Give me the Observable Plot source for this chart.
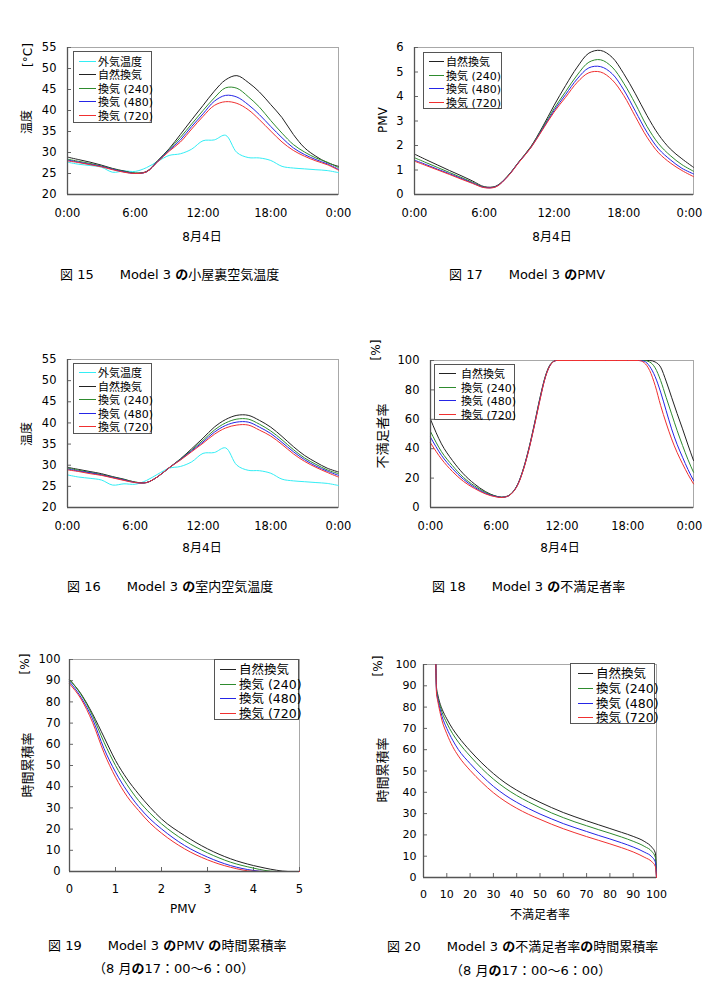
<!DOCTYPE html>
<html><head><meta charset="utf-8">
<script src="https://cdn.jsdelivr.net/npm/d3@7"></script>
<script src="https://cdn.jsdelivr.net/npm/@observablehq/plot@0.6"></script>
<style>
body{margin:0;background:#fff;font-family:"DejaVu Sans","Noto Sans CJK JP",sans-serif;color:#000;}
#page{position:relative;width:703px;height:981px;overflow:hidden;background:#fff;}
.t{position:absolute;white-space:pre;line-height:1;}
.lg{position:absolute;border:1px solid #555;background:#fff;box-sizing:border-box;}
.lgl{position:absolute;height:1px;}
.lgt{position:absolute;white-space:pre;line-height:1;transform:translateY(-50%);}
.no{font-weight:bold;}
</style>
</head><body><div id="page"></div>
<script>
// ---------- data ----------
const hours = [0,1,2,3,4,5,6,7,8,9,10,11,12,13,14,15,16,17,18,19,20,21,22,23,24];
const timeTicks = [0, 6, 12, 18, 24];
const timeLabels = ["0:00", "6:00", "12:00", "18:00", "0:00"];
const seriesNames = ["外気温度", "自然換気", "換気 (240)", "換気 (480)", "換気 (720)"];

// 外気温度 (same for Fig.15 and Fig.16)
const outsideTemp = [27.7, 27.2, 26.9, 26.5, 25.3, 25.6, 25.5, 26.4, 27.9, 29.3, 29.7, 30.8, 32.8, 33.0, 34.1, 30.0, 28.8, 28.7, 28.1, 26.7, 26.3, 26.1, 25.9, 25.7, 25.2];

// Fig.15 小屋裏空気温度
const atticNatural = [28.9, 28.3, 27.7, 27.0, 26.2, 25.6, 25.1, 25.5, 28.1, 30.9, 34.3, 37.8, 41.2, 44.6, 47.3, 48.3, 46.7, 44.4, 41.4, 38.3, 34.3, 31.1, 29.1, 27.6, 26.7];
const attic240 = [28.4, 27.9, 27.4, 26.8, 26.1, 25.5, 25.1, 25.4, 28.0, 30.7, 33.6, 36.8, 40.0, 43.0, 45.4, 45.3, 43.3, 40.8, 37.6, 34.6, 31.9, 30.1, 28.7, 27.7, 26.4];
const attic480 = [28.2, 27.7, 27.2, 26.7, 26.0, 25.4, 25.0, 25.4, 27.9, 30.5, 33.0, 36.2, 39.2, 42.2, 43.6, 43.2, 41.4, 39.0, 36.2, 33.5, 31.1, 29.5, 28.3, 27.3, 26.0];
const attic720 = [28.0, 27.6, 27.1, 26.6, 25.9, 25.3, 25.0, 25.4, 27.8, 30.3, 32.5, 35.6, 38.6, 41.2, 42.1, 41.7, 40.2, 37.8, 35.1, 32.5, 30.5, 29.1, 28.0, 27.1, 25.8];

// Fig.16 室内空気温度
const roomNatural = [29.5, 29.0, 28.5, 28.0, 27.3, 26.7, 26.0, 25.9, 27.3, 29.4, 31.5, 33.9, 36.4, 39.0, 40.8, 41.8, 41.8, 40.6, 39.0, 36.8, 34.4, 32.3, 30.7, 29.3, 28.4];
const room240 = [29.3, 28.8, 28.3, 27.8, 27.2, 26.6, 26.0, 25.9, 27.3, 29.4, 31.4, 33.6, 35.9, 38.3, 40.0, 40.9, 40.9, 39.7, 38.1, 36.0, 33.7, 31.7, 30.2, 28.9, 28.0];
const room480 = [29.1, 28.6, 28.2, 27.7, 27.1, 26.5, 25.9, 25.9, 27.3, 29.4, 31.3, 33.4, 35.5, 37.8, 39.4, 40.2, 40.2, 39.0, 37.5, 35.4, 33.2, 31.3, 29.8, 28.6, 27.6];
const room720 = [28.9, 28.5, 28.0, 27.6, 27.0, 26.4, 25.9, 25.9, 27.3, 29.4, 31.2, 33.2, 35.2, 37.3, 38.8, 39.5, 39.5, 38.3, 36.9, 34.9, 32.7, 30.9, 29.5, 28.3, 27.2];

// Fig.17 PMV
const pmvNatural = [1.65, 1.42, 1.2, 0.98, 0.77, 0.55, 0.32, 0.34, 0.75, 1.35, 1.95, 2.75, 3.63, 4.45, 5.2, 5.77, 5.88, 5.6, 4.93, 4.11, 3.22, 2.44, 1.86, 1.46, 1.11];
const pmv240 = [1.5, 1.3, 1.1, 0.9, 0.7, 0.5, 0.3, 0.33, 0.74, 1.34, 1.93, 2.7, 3.5, 4.2, 4.88, 5.4, 5.5, 5.2, 4.54, 3.7, 2.78, 2.07, 1.59, 1.22, 0.95];
const pmv480 = [1.4, 1.22, 1.03, 0.85, 0.66, 0.47, 0.29, 0.32, 0.73, 1.33, 1.91, 2.66, 3.42, 4.08, 4.72, 5.17, 5.22, 4.93, 4.27, 3.4, 2.54, 1.86, 1.42, 1.07, 0.84];
const pmv720 = [1.36, 1.18, 1.0, 0.82, 0.63, 0.45, 0.28, 0.31, 0.72, 1.32, 1.9, 2.63, 3.36, 3.97, 4.58, 4.97, 5.0, 4.68, 4.04, 3.18, 2.34, 1.7, 1.29, 0.98, 0.73];

// Fig.18 不満足者率 (PPD)
const ppdTime = [0,1,2,3,4,5,6, 6.5,7,7.5,8,8.5,9,9.5,10,10.5,11,11.5,12, 13,14,15,16,17,18,19, 19.5,20,20.5,21,21.5,22,22.5,23,23.5,24];
const ppdNatural = [60, 43.3, 32, 22.9, 16.1, 10.9, 7.7, 7.0, 7.7, 10.5, 16.5, 27, 41, 57.5, 75, 89.8, 98, 100, 100, 100, 100, 100, 100, 100, 100, 100, 100, 100, 99, 95.5, 86, 75, 64, 53.5, 42.5, 32];
const ppd240 = [51.7, 38, 28.5, 20.5, 14.8, 10.3, 7.6, 7.0, 7.6, 10.4, 16.3, 26.7, 40.6, 57, 74.5, 89.5, 97.8, 100, 100, 100, 100, 100, 100, 100, 100, 100, 100, 99, 95, 86.4, 75, 63.7, 52.5, 42.2, 32.5, 24];
const ppd480 = [47.8, 35.5, 26.5, 19.2, 13.8, 9.7, 7.4, 6.9, 7.5, 10.3, 16.2, 26.5, 40.3, 56.6, 74, 89.2, 97.6, 100, 100, 100, 100, 100, 100, 100, 100, 100, 99.5, 96, 89, 78.5, 66, 53.5, 43, 34.2, 25.8, 18.4];
const ppd720 = [44, 33, 24.5, 17.8, 13, 9.3, 7.2, 6.8, 7.5, 10.2, 16, 26.2, 40, 56.2, 73.5, 89, 97.5, 100, 100, 100, 100, 100, 100, 100, 100, 100, 98.5, 93.2, 83, 69.4, 57.5, 46.7, 37.5, 29.7, 22.5, 16.1];

// Fig.19 PMVの時間累積率
const cumPmv = [0, 0.25, 0.5, 0.75, 1.0, 1.25, 1.5, 1.75, 2.0, 2.5, 3.0, 3.5, 4.0, 4.25, 4.5, 4.75, 5.0];
const cumPmvNatural = [90.5, 83.8, 74.4, 63.4, 52.4, 43.7, 36.6, 30.3, 24.8, 17.0, 10.7, 6.0, 2.8, 1.6, 0.6, 0, 0];
const cumPmv240 = [90.5, 83.5, 73.5, 61, 50, 41, 33.5, 27.5, 22.5, 14.6, 8.8, 4.4, 1.6, 0.5, 0, 0, 0];
const cumPmv480 = [89.5, 82.2, 72, 58, 46.9, 38, 30.7, 24.8, 20.1, 12.3, 6.8, 2.8, 0.5, 0, 0, 0, 0];
const cumPmv720 = [88.5, 81.4, 70.4, 56, 44.5, 35.5, 28.8, 22.8, 18.1, 10.7, 5.5, 2.0, 0.1, 0, 0, 0, 0];

// Fig.20 不満足者率の時間累積率
const cumPpd = [5.3, 5.6, 6, 7, 8, 10, 12.5, 15, 20, 25, 30, 35, 40, 45, 50, 55, 60, 65, 70, 75, 80, 85, 90, 95, 98, 99.5, 100];
const cumPpdNatural = [100, 89, 86.5, 82, 79, 74.5, 69.8, 66, 59.5, 53.8, 48.8, 44.5, 41, 38, 35.3, 32.8, 30.5, 28.5, 26.6, 24.8, 23, 21.2, 19.3, 16.8, 14.2, 11.5, 0];
const cumPpd240 = [100, 88, 85.5, 81, 77.5, 72.5, 67.5, 63.5, 57, 51.2, 46.2, 42, 38.5, 35.5, 32.8, 30.3, 28.1, 26.1, 24.3, 22.5, 20.8, 19, 17, 14.5, 12.2, 9.5, 0];
const cumPpd480 = [100, 87, 84.5, 79.5, 75.5, 70, 64.5, 60, 53.5, 47.8, 42.8, 38.7, 35.3, 32.4, 29.8, 27.5, 25.3, 23.4, 21.6, 19.8, 18.1, 16.3, 14.3, 11.8, 9.7, 7.3, 0];
const cumPpd720 = [100, 86, 83.5, 78, 73.5, 67.5, 61.5, 57, 50.3, 44.7, 39.8, 35.8, 32.5, 29.7, 27.3, 25, 22.9, 21, 19.2, 17.5, 15.8, 14, 12, 9.4, 7.4, 5.2, 0];

const colors = {"外気温度": "#33eef5", "自然換気": "#222222", "換気 (240)": "#2e8b2e", "換気 (480)": "#2525e6", "換気 (720)": "#f03030"};

// ---------- helpers ----------
const page = document.getElementById("page");
const FONT = '"DejaVu Sans","Noto Sans CJK JP",sans-serif';
const intFmt = d => String(d);

function panel(cfg) {
  const xFmt = cfg.xFormat || intFmt;
  const marks = [
    Plot.frame({stroke: "#a8a8a8"}),
    Plot.axisY({ticks: cfg.yTicks, tickSize: 0, tickPadding: cfg.yPad, tickFormat: intFmt, label: null}),
    Plot.axisY({ticks: cfg.yTicks, tickSize: 4, dx: 4, fill: "none", stroke: "#666", label: null})
  ];
  if (cfg.shiftLast) {
    marks.push(Plot.axisX({ticks: cfg.xTicks.slice(0, -1), tickSize: 0, tickPadding: cfg.xPad, tickFormat: xFmt, label: null}));
    marks.push(Plot.axisX({ticks: cfg.xTicks.slice(-1), tickSize: 0, tickPadding: cfg.xPad, tickFormat: xFmt, label: null, dx: cfg.shiftLast}));
  } else {
    marks.push(Plot.axisX({ticks: cfg.xTicks, tickSize: 0, tickPadding: cfg.xPad, tickFormat: xFmt, label: null}));
  }
  if (cfg.xInner) marks.push(Plot.axisX({ticks: cfg.xTicks, tickSize: 4, dy: -4, fill: "none", stroke: "#666", label: null}));
  for (const s of cfg.series) {
    marks.push(Plot.line(cfg.x.map((t, i) => ({t, v: s.values[i]})), {x: "t", y: "v", stroke: colors[s.name], strokeWidth: 1, curve: cfg.curve}));
  }
  marks.push(Plot.ruleX([cfg.xDomain[0]], {stroke: "#555", strokeWidth: 1.3}));
  marks.push(Plot.ruleY([cfg.yDomain[0]], {stroke: "#555", strokeWidth: 1.3}));
  const svg = Plot.plot({
    width: cfg.width, height: cfg.height,
    marginLeft: cfg.ml, marginRight: cfg.mr, marginTop: cfg.mt, marginBottom: cfg.mb,
    x: {domain: cfg.xDomain}, y: {domain: cfg.yDomain},
    style: {fontFamily: FONT, fontSize: cfg.fontSize + "px", color: "#000", background: "transparent", overflow: "visible"},
    marks
  });
  svg.style.position = "absolute";
  svg.style.left = cfg.left + "px";
  svg.style.top = cfg.top + "px";
  svg.style.maxWidth = "none";
  page.appendChild(svg);
}

function text(str, x, y, {size = 12, anchor = "start", rotate = false, html = false} = {}) {
  const d = document.createElement("div");
  d.className = "t";
  if (html) d.innerHTML = str; else d.textContent = str;
  d.style.fontSize = size + "px";
  d.style.left = x + "px";
  d.style.top = y + "px";
  if (rotate) d.style.transform = "translate(-50%,-50%) rotate(-90deg)";
  else if (anchor === "middle") d.style.transform = "translate(-50%,-50%)";
  else d.style.transform = "translate(0,-50%)";
  page.appendChild(d);
}

function legend(names, box, rows, lineX, textX, size) {
  const b = document.createElement("div");
  b.className = "lg";
  b.style.left = box[0] + "px"; b.style.top = box[1] + "px";
  b.style.width = (box[2] - box[0]) + "px"; b.style.height = (box[3] - box[1]) + "px";
  names.forEach((n, i) => {
    const ry = Math.round(rows[i] - box[1] - 1);
    const l = document.createElement("div");
    l.className = "lgl";
    l.style.left = lineX[0] + "px"; l.style.width = (lineX[1] - lineX[0]) + "px";
    l.style.top = ry + "px";
    l.style.background = colors[n];
    b.appendChild(l);
    const t = document.createElement("div");
    t.className = "lgt";
    t.textContent = n;
    t.style.left = textX + "px"; t.style.top = (ry + 0.5) + "px";
    t.style.fontSize = size + "px";
    b.appendChild(t);
  });
  page.appendChild(b);
}

const timeFmt = d => timeLabels[timeTicks.indexOf(d)];
const tempTicks = [20, 25, 30, 35, 40, 45, 50, 55];
const tempSeries = (a, b, c, d) => [
  {name: "外気温度", values: outsideTemp}, {name: "自然換気", values: a},
  {name: "換気 (240)", values: b}, {name: "換気 (480)", values: c}, {name: "換気 (720)", values: d}];
const fourSeries = (a, b, c, d) => [
  {name: "自然換気", values: a}, {name: "換気 (240)", values: b},
  {name: "換気 (480)", values: c}, {name: "換気 (720)", values: d}];

// ---------- Fig.15 ----------
panel({left: 0, top: 30, width: 350, height: 200, ml: 67, mr: 12, mt: 17, mb: 36,
  x: hours, xDomain: [0, 24], xTicks: timeTicks, xFormat: timeFmt, yDomain: [20, 55], yTicks: tempTicks,
  xPad: 14, yPad: 11, fontSize: 11.5, curve: "catmull-rom",
  series: tempSeries(atticNatural, attic240, attic480, attic720)});
// ---------- Fig.17 ----------
panel({left: 350, top: 30, width: 353, height: 200, ml: 64, mr: 10, mt: 17, mb: 36,
  x: hours, xDomain: [0, 24], xTicks: timeTicks, xFormat: timeFmt, yDomain: [0, 6], yTicks: [0,1,2,3,4,5,6],
  xPad: 14, yPad: 11, fontSize: 11.5, curve: "catmull-rom", shiftLast: -4,
  series: fourSeries(pmvNatural, pmv240, pmv480, pmv720)});
// ---------- Fig.16 ----------
panel({left: 0, top: 340, width: 350, height: 200, ml: 67, mr: 12, mt: 19, mb: 33,
  x: hours, xDomain: [0, 24], xTicks: timeTicks, xFormat: timeFmt, yDomain: [20, 55], yTicks: tempTicks,
  xPad: 14, yPad: 11, fontSize: 11.5, curve: "catmull-rom",
  series: tempSeries(roomNatural, room240, room480, room720)});
// ---------- Fig.18 ----------
panel({left: 350, top: 340, width: 353, height: 200, ml: 80, mr: 10, mt: 20, mb: 33,
  x: ppdTime, xDomain: [0, 24], xTicks: timeTicks, xFormat: timeFmt, yDomain: [0, 100], yTicks: [0,20,40,60,80,100],
  xPad: 14, yPad: 11, fontSize: 11.5, curve: "monotone-x", shiftLast: -4,
  series: fourSeries(ppdNatural, ppd240, ppd480, ppd720)});
// ---------- Fig.19 ----------
panel({left: 0, top: 640, width: 350, height: 250, ml: 69, mr: 51, mt: 19, mb: 19,
  x: cumPmv, xDomain: [0, 5], xTicks: [0,1,2,3,4,5], yDomain: [0, 100], yTicks: [0,10,20,30,40,50,60,70,80,90,100],
  xPad: 13, yPad: 9, fontSize: 11.5, curve: "monotone-x", xInner: true,
  series: fourSeries(cumPmvNatural, cumPmv240, cumPmv480, cumPmv720)});
// ---------- Fig.20 ----------
panel({left: 350, top: 640, width: 353, height: 250, ml: 73, mr: 47, mt: 24, mb: 13,
  x: cumPpd, xDomain: [0, 100], xTicks: [0,10,20,30,40,50,60,70,80,90,100], yDomain: [0, 100], yTicks: [0,10,20,30,40,50,60,70,80,90,100],
  xPad: 13, yPad: 7, fontSize: 11, curve: "monotone-x", xInner: true,
  series: fourSeries(cumPpdNatural, cumPpd240, cumPpd480, cumPpd720)});

// ---------- legends ----------
legend(seriesNames, [73, 51, 152, 123], [60.5, 74, 87.5, 101, 114.5], [5, 22], 24, 11);
legend(seriesNames.slice(1), [423, 52, 502, 109], [61, 74.5, 88, 101.5], [5, 20], 22, 11);
legend(seriesNames, [73, 363, 152, 434], [372, 385.5, 399, 412.5, 426], [5, 22], 24, 11);
legend(seriesNames.slice(1), [434, 364, 515, 420], [373, 386.5, 400, 413.5], [4, 21], 26, 11);
legend(seriesNames.slice(1), [214, 659, 299, 720], [669, 683.5, 698, 712.5], [5, 21], 24, 12.5);
legend(seriesNames.slice(1), [570, 663, 655, 724], [673, 688, 702.5, 717], [7, 22], 25, 12.5);

// ---------- axis titles & captions ----------
text("[°C]", 27.5, 55, {size: 12, rotate: true});
text("温度", 27, 122, {size: 12, rotate: true});
text("8月4日", 202, 237, {size: 12, anchor: "middle"});
text('図 15　　Model 3 <span class="no">の</span>小屋裏空気温度', 60, 274, {size: 13, html: true});

text("PMV", 383, 120, {size: 12, rotate: true});
text("8月4日", 552, 237, {size: 12, anchor: "middle"});
text('図 17　　Model 3 <span class="no">の</span>PMV', 449, 274, {size: 13, html: true});

text("温度", 27, 434, {size: 12, rotate: true});
text("8月4日", 202, 548, {size: 12, anchor: "middle"});
text('図 16　　Model 3 <span class="no">の</span>室内空気温度', 67, 586, {size: 13, html: true});

text("[%]", 376, 350, {size: 12, rotate: true});
text("不満足者率", 382, 436, {size: 13, rotate: true});
text("8月4日", 560, 548, {size: 12, anchor: "middle"});
text('図 18　　Model 3 <span class="no">の</span>不満足者率', 432, 586, {size: 13, html: true});

text("[%]", 25, 664, {size: 12, rotate: true});
text("時間累積率", 27, 765, {size: 13, rotate: true});
text("PMV", 183, 909, {size: 12, anchor: "middle"});
text('図 19　　Model 3 <span class="no">の</span>PMV <span class="no">の</span>時間累積率', 48, 945, {size: 13, html: true});
text('（8 月<span class="no">の</span>17：00～6：00）', 93, 968, {size: 13, html: true});

text("[%]", 378, 666, {size: 12, rotate: true});
text("時間累積率", 382, 770, {size: 13, rotate: true});
text("不満足者率", 540, 915, {size: 12, anchor: "middle"});
text('図 20　　Model 3 <span class="no">の</span>不満足者率<span class="no">の</span>時間累積率', 387, 946, {size: 13, html: true});
text('（8 月<span class="no">の</span>17：00～6：00）', 450, 970, {size: 13, html: true});
</script>
</body></html>
